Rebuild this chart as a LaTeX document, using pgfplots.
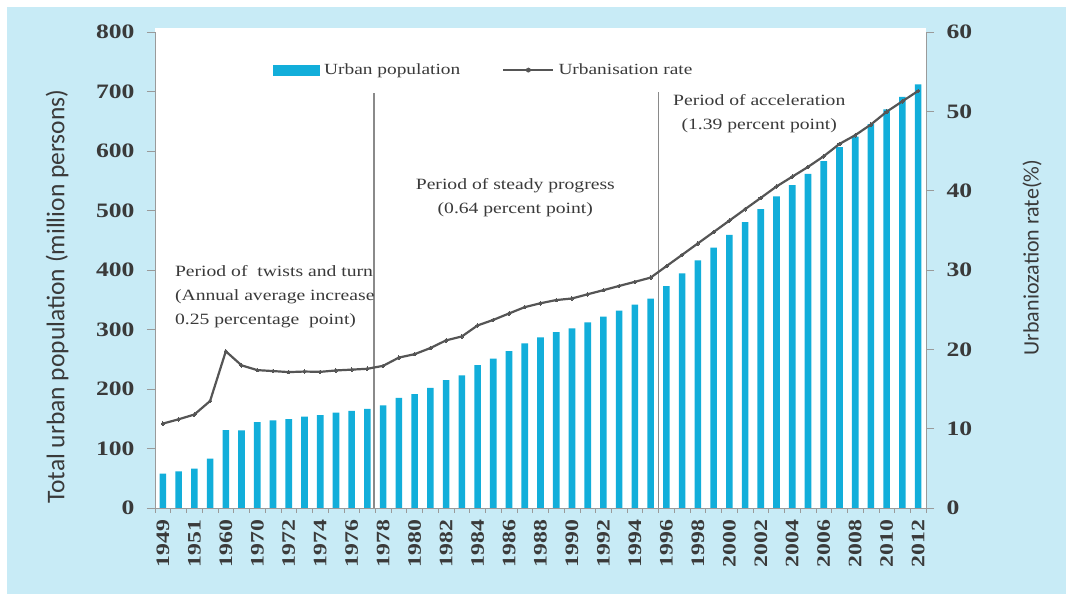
\documentclass[border=0pt]{standalone}
\usepackage{fontspec}
\setmainfont{Liberation Serif}[FakeStretch=1.25]
\newfontfamily\labelfont{Carlito}
\usepackage{pgfplots}
\pgfplotsset{compat=1.18}
\usepackage{pgfplotstable}
\definecolor{bgblue}{HTML}{C8EBF6}
\definecolor{barcyan}{HTML}{12AEDA}
\definecolor{linegray}{HTML}{555555}
\definecolor{axgray}{HTML}{9A9A9A}
\definecolor{vgray}{HTML}{8A8A8A}
\definecolor{txtgray}{HTML}{3A3A3A}
\pgfplotstableread{
idx pop rate
0 57.65 10.64
1 61.69 11.18
2 66.32 11.78
3 82.85 13.48
4 130.73 19.75
5 130.45 17.98
6 144.24 17.38
7 147.11 17.26
8 149.35 17.13
9 153.45 17.20
10 155.95 17.16
11 160.30 17.34
12 163.41 17.44
13 166.69 17.55
14 172.45 17.92
15 184.95 18.96
16 191.40 19.39
17 201.71 20.16
18 214.80 21.13
19 222.74 21.62
20 240.17 23.01
21 250.94 23.71
22 263.66 24.52
23 276.74 25.32
24 286.61 25.81
25 295.40 26.21
26 301.95 26.41
27 312.03 26.94
28 321.75 27.46
29 331.73 27.99
30 341.69 28.51
31 351.74 29.04
32 373.04 30.48
33 394.49 31.91
34 416.08 33.35
35 437.48 34.78
36 459.06 36.22
37 480.64 37.66
38 502.12 39.09
39 523.76 40.53
40 542.83 41.76
41 561.57 42.99
42 582.88 44.34
43 606.33 45.89
44 624.03 46.99
45 645.12 48.34
46 669.78 49.95
47 690.79 51.27
48 711.82 52.57
}\datatable
\begin{document}
\begin{tikzpicture}
\fill[white] (0pt,0pt) rectangle (1073pt,601pt);
\fill[bgblue] (7pt,7pt) rectangle (1066pt,594pt);
\fill[white] (155pt,93pt) rectangle (926pt,573pt);
\useasboundingbox (0pt,0pt) rectangle (1073pt,601pt);
\pgfplotsset{
  common/.style={
    at={(155pt,93pt)}, anchor=south west,
    scale only axis, width=771pt, height=476pt,
    xmin=-0.5, xmax=48.5,
    axis line style={draw=axgray, line width=0.8pt, -},
    tick align=outside,
    /pgf/number format/assume math mode=true,
    ticklabel style={font=\fontsize{19}{19}\selectfont\bfseries, text=txtgray},
  }
}
\begin{axis}[common,
  axis x line*=bottom, axis y line*=left,
  ymin=0, ymax=800, ytick={0,100,...,800},
  major tick length=8pt,
  y tick style={draw=axgray, line width=0.8pt},
  yticklabel style={xshift=-9pt, font=\fontsize{20.5}{20.5}\selectfont\bfseries},
  xtick={0,2,...,48},
  xticklabels={1949,1951,1960,1970,1972,1974,1976,1978,1980,1982,1984,1986,1988,1990,1992,1994,1996,1998,2000,2002,2004,2006,2008,2010,2012},
  major x tick style={draw=none},
  minor xtick={-0.5,0.5,...,48.5},
  minor tick length=5pt,
  minor x tick style={draw=axgray, line width=0.6pt},
  xticklabel style={rotate=90, anchor=east},
  every axis y label/.style={at={(axis description cs:-0.127,0.444)}, rotate=90, anchor=center},
  ylabel={\labelfont\fontsize{25.5}{25.5}\selectfont\color{txtgray}Total urban population (million persons)},
  legend style={at={(0.153,0.92)}, anchor=west, draw=none, fill=none,
    inner sep=0pt, font=\fontsize{15.5}{15.5}\selectfont\color{txtgray},
    nodes={inner xsep=4pt, inner ysep=0pt},
    /tikz/every even column/.append style={column sep=38pt}},
  legend columns=2,
  legend cell align=left,
]
\addplot[ybar, bar width=0.42, fill=barcyan, draw=none, bar shift=0pt,
  legend image code/.code={\fill[barcyan] (0pt,-5.5pt) rectangle (47pt,5.5pt);}]
  table[x=idx, y=pop] {\datatable};
\addlegendentry{Urban population}
\addlegendimage{legend image code/.code={\draw[linegray, line width=2.2pt] (0pt,0pt) -- (50pt,0pt); \fill[linegray] (25pt,0pt) circle (2.2pt);}}
\addlegendentry{Urbanisation rate}
\draw[vgray, line width=1.8pt] (axis cs:13.4,0) -- (axis cs:13.4,697);
\draw[vgray, line width=1.8pt] (axis cs:31.5,0) -- (axis cs:31.5,699);
\node[anchor=west, align=left, text=txtgray, font=\fontsize{15.7}{24}\selectfont] at (axis cs:0.55,355)
  {Period of~ twists and turn\\(Annual average increase\\0.25 percentage~ point)};
\node[align=center, text=txtgray, font=\fontsize{15.7}{24}\selectfont] at (axis cs:22.4,521)
  {Period of steady progress\\(0.64 percent point)};
\node[align=center, text=txtgray, font=\fontsize{15.7}{24}\selectfont] at (axis cs:37.9,662)
  {Period of acceleration\\(1.39 percent point)};
\end{axis}
\begin{axis}[common,
  axis x line=none, axis y line*=right,
  ymin=0, ymax=60, ytick={0,10,...,60},
  major tick length=8pt,
  y tick style={draw=axgray, line width=0.8pt},
  yticklabel style={xshift=9pt, font=\fontsize{20.5}{20.5}\selectfont\bfseries},
  every axis y label/.style={at={(axis description cs:1.1375,0.526)}, rotate=90, anchor=center},
  ylabel={\labelfont\fontsize{22}{22}\selectfont\color{txtgray}Urbaniozation rate(\%)},
]
\addplot[linegray, line width=2.2pt, mark=*, mark size=1.8pt, mark options={fill=linegray, draw=linegray, line width=0pt}]
  table[x=idx, y=rate] {\datatable};
\end{axis}
\end{tikzpicture}
\end{document}
